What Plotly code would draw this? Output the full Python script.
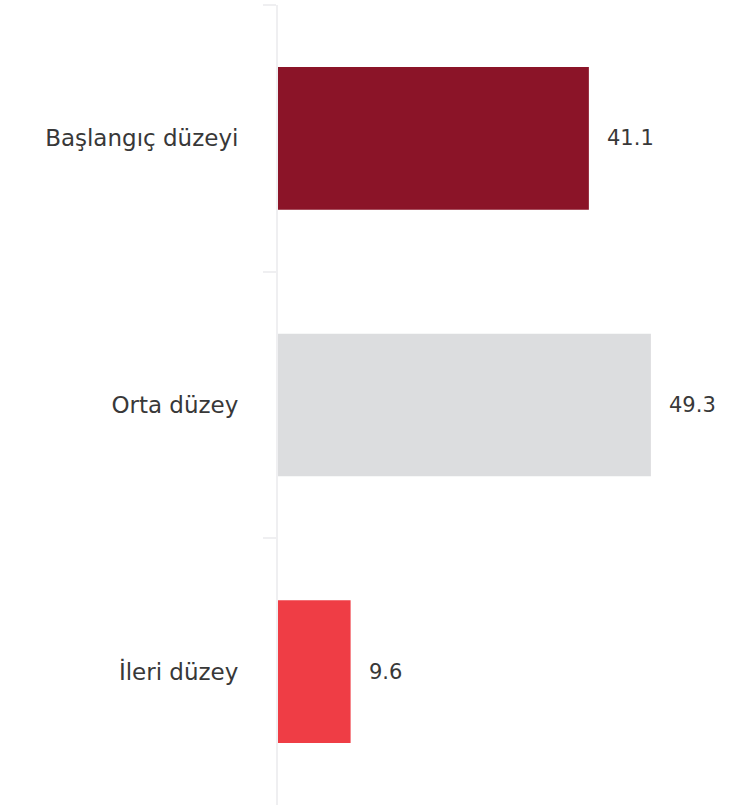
import plotly.graph_objects as go

categories = ["Başlangıç düzeyi", "Orta düzey", "İleri düzey"]
values = [41.1, 49.3, 9.6]
colors = ["#8B1428", "#DCDDDF", "#EF3D45"]
labels = ["41.1", "49.3", "9.6"]

FONT = "DejaVu Sans"
TXT = "#383838"

fig = go.Figure()
fig.add_trace(go.Bar(
    y=categories, x=values, orientation="h",
    marker=dict(color=colors, line=dict(width=0)),
    hoverinfo="skip",
))
for c, v, t in zip(categories, values, labels):
    fig.add_annotation(x=v, y=c, text=t, showarrow=False, xanchor="left",
                       xshift=16, font=dict(family=FONT, size=21, color=TXT))

fig.update_layout(
    width=729, height=807,
    margin=dict(l=278, r=35, t=5, b=2),
    plot_bgcolor="white", paper_bgcolor="white",
    bargap=0.465,
    showlegend=False,
    font=dict(family=FONT, size=23, color=TXT),
)
fig.update_xaxes(range=[0, 55], visible=False, fixedrange=True)
fig.update_yaxes(
    autorange="reversed",
    showline=True, linecolor="#EFEFF1", linewidth=2,
    ticks="outside", tickson="boundaries", ticklen=13, tickcolor="#EFEFF1", tickwidth=2,
    ticklabelstandoff=33,
    showgrid=False, zeroline=False, fixedrange=True,
    tickfont=dict(family=FONT, size=23, color=TXT),
)
fig.write_html("out.html", config={"displayModeBar": False},
               post_script="document.body.style.margin='0';")
